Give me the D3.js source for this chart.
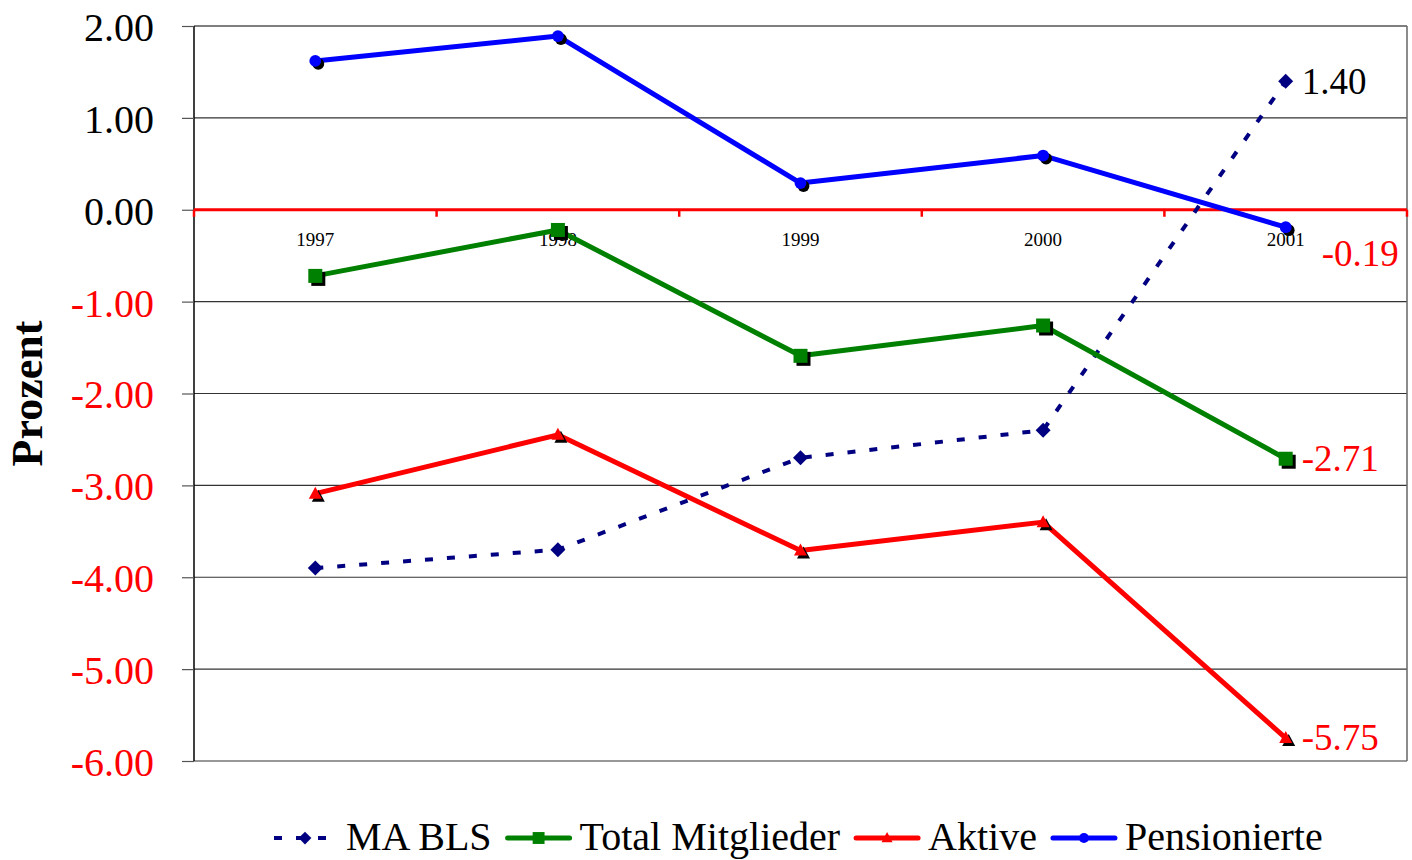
<!DOCTYPE html>
<meta charset="utf-8">
<style>
body { margin: 0; background: #fff; }
svg text { font-family: "Liberation Serif", "Times New Roman", serif; }
</style>
<svg id="chart" width="1412" height="860"></svg>
<script src="https://cdnjs.cloudflare.com/ajax/libs/d3/7.8.5/d3.min.js"></script>
<script>

// data
var years = ["1997", "1998", "1999", "2000", "2001"];
var maBls = [-3.9, -3.7, -2.7, -2.4, 1.40];
var totalMitglieder = [-0.72, -0.22, -1.59, -1.26, -2.71];
var aktive = [-3.09, -2.45, -3.71, -3.40, -5.75];
var pensionierte = [1.62, 1.89, 0.29, 0.59, -0.19];
var yTicks = [2, 1, 0, -1, -2, -3, -4, -5, -6];

var series = [
  {name: "MA BLS", values: maBls, color: "#000080", symbol: "diamond", dashed: true},
  {name: "Total Mitglieder", values: totalMitglieder, color: "#008000", symbol: "square"},
  {name: "Aktive", values: aktive, color: "#ff0000", symbol: "triangle"},
  {name: "Pensionierte", values: pensionierte, color: "#0000ff", symbol: "circle"}
];

var svg = d3.select("#chart"),
    margin = {top: 26, right: 5, bottom: 99, left: 194},
    width = +svg.attr("width") - margin.left - margin.right,
    height = +svg.attr("height") - margin.top - margin.bottom;

var x = d3.scaleBand().domain(years).range([margin.left, margin.left + width]);
var y = d3.scaleLinear().domain([-6, 2]).range([margin.top + height, margin.top]);

var negColor = function(v) { return v < 0 ? "#ff0000" : "#000"; };
// hyphen instead of the unicode minus d3 uses
var fmt = function(v) { return d3.format(".2f")(v).replace("\u2212", "-"); };

// grid lines
svg.append("g")
  .selectAll("line")
  .data(yTicks.filter(function(d) { return d !== 0; }))
  .enter().append("line")
    .attr("x1", margin.left).attr("x2", margin.left + width)
    .attr("y1", function(d) { return y(d); }).attr("y2", function(d) { return y(d); })
    .attr("stroke", function(d) { return d === 2 ? "#000" : "#333"; })
    .attr("stroke-width", 1.2);

// frame
svg.append("line")
  .attr("x1", margin.left + width).attr("x2", margin.left + width)
  .attr("y1", margin.top).attr("y2", margin.top + height)
  .attr("stroke", "#666").attr("stroke-width", 1.5);
svg.append("line")
  .attr("x1", margin.left).attr("x2", margin.left)
  .attr("y1", margin.top).attr("y2", margin.top + height)
  .attr("stroke", "#000").attr("stroke-width", 1.5);

// y axis
var yAxis = d3.axisLeft(y).tickValues(yTicks).tickSize(12).tickPadding(28)
  .tickFormat(fmt);
var gy = svg.append("g")
  .attr("transform", "translate(" + margin.left + ",0)")
  .call(yAxis);
gy.select(".domain").remove();
gy.selectAll(".tick line").attr("stroke", "#555").attr("stroke-width", 1.2);
gy.selectAll(".tick text")
  .attr("font-family", "Liberation Serif, Times New Roman, serif")
  .style("font-size", "40px")
  .attr("fill", function(d) { return negColor(d); })
  .attr("dy", "0.36em");

svg.append("text")
  .attr("transform", "translate(42," + (margin.top + height / 2) + ") rotate(-90)")
  .attr("text-anchor", "middle")
  .style("font-size", "44px")
  .style("font-weight", "bold")
  .text("Prozent");

// x axis on the zero line
var bounds = years.map(function(d) { return x(d); }).concat([margin.left + width]);
svg.append("line")
  .attr("x1", margin.left).attr("x2", margin.left + width)
  .attr("y1", y(0)).attr("y2", y(0))
  .attr("stroke", "#ff0000").attr("stroke-width", 3);
svg.append("g").selectAll("line")
  .data(bounds)
  .enter().append("line")
    .attr("x1", function(d) { return d; }).attr("x2", function(d) { return d; })
    .attr("y1", y(0)).attr("y2", y(0) + 7)
    .attr("stroke", "#ff0000").attr("stroke-width", 2.5);
svg.append("g").selectAll("text")
  .data(years)
  .enter().append("text")
    .attr("x", function(d) { return x(d) + x.bandwidth() / 2; })
    .attr("y", y(0) + 36)
    .attr("text-anchor", "middle")
    .style("font-size", "19px")
    .text(function(d) { return d; });

// marker shapes
function symbolPath(type) {
  if (type === "diamond") return "M0,-7.5L7.5,0L0,7.5L-7.5,0Z";
  if (type === "square") return "M-7,-7H7V7H-7Z";
  if (type === "triangle") return "M0,-7L6.5,5L-6.5,5Z";
  return d3.symbol(d3.symbolCircle, 110)();
}

var line = d3.line()
  .x(function(d, i) { return x(years[i]) + x.bandwidth() / 2; })
  .y(function(d) { return y(d); });

series.forEach(function(s) {
  svg.append("path")
    .datum(s.values)
    .attr("d", line)
    .attr("fill", "none")
    .attr("stroke", s.color)
    .attr("stroke-width", s.dashed ? 4 : 5)
    .attr("stroke-dasharray", s.dashed ? "8,14" : null)
    .attr("stroke-linejoin", "round");
});

series.forEach(function(s) {
  var g = svg.append("g");
  s.values.forEach(function(v, i) {
    var cx = x(years[i]) + x.bandwidth() / 2, cy = y(v);
    if (!s.dashed) {
      g.append("path")
        .attr("d", symbolPath(s.symbol))
        .attr("transform", "translate(" + (cx + 3) + "," + (cy + 3) + ")")
        .attr("fill", "#000");
    }
    g.append("path")
      .attr("d", symbolPath(s.symbol))
      .attr("transform", "translate(" + cx + "," + cy + ")")
      .attr("fill", s.color);
  });
});

// value labels on the last year
var labelOffsets = {"MA BLS": [16, 13], "Total Mitglieder": [16, 12], "Aktive": [16, 12], "Pensionierte": [36, 39]};
series.forEach(function(s) {
  var v = s.values[s.values.length - 1];
  var off = labelOffsets[s.name];
  svg.append("text")
    .attr("x", x(years[years.length - 1]) + x.bandwidth() / 2 + off[0])
    .attr("y", y(v) + off[1])
    .attr("fill", negColor(v))
    .style("font-size", "37px")
    .text(fmt(v));
});

// legend
var legendY = 838, lx = 274;
series.forEach(function(s) {
  var g = svg.append("g");
  g.append("line")
    .attr("x1", lx).attr("x2", lx + 62)
    .attr("y1", legendY).attr("y2", legendY)
    .attr("stroke", s.color)
    .attr("stroke-width", s.dashed ? 4 : 5)
    .attr("stroke-linecap", s.dashed ? "butt" : "round")
    .attr("stroke-dasharray", s.dashed ? "8,14" : null);
  g.append("path")
    .attr("d", symbolPath(s.symbol))
    .attr("transform", "translate(" + (lx + 31) + "," + legendY + ") scale(0.85)")
    .attr("fill", s.color);
  var t = g.append("text")
    .attr("x", lx + 72)
    .attr("y", legendY + 12)
    .style("font-size", "40px")
    .text(s.name);
  lx = lx + 72 + t.node().getComputedTextLength() + 16;
});

</script>
